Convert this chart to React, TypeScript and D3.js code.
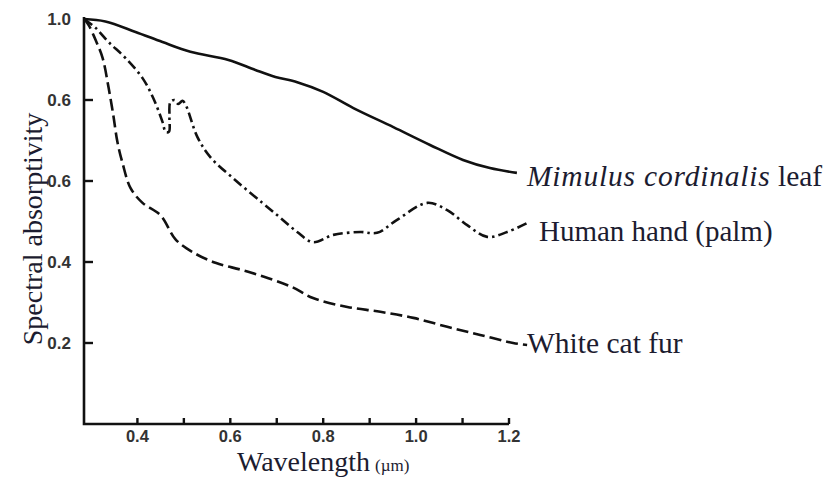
import React from "react";
import * as d3 from "d3";

// Wavelength (µm) vs spectral absorptivity
const leafData: [number, number][] = [
  [0.285, 1.0], [0.331, 0.994], [0.396, 0.968], [0.454, 0.943], [0.514, 0.919],
  [0.596, 0.899], [0.654, 0.874], [0.697, 0.857], [0.744, 0.844], [0.8, 0.82],
  [0.865, 0.78], [0.951, 0.733], [1.03, 0.689], [1.101, 0.652], [1.159, 0.632], [1.217, 0.62],
];

const handData: [number, number][] = [
  [0.285, 1.0], [0.31, 0.978], [0.338, 0.943], [0.374, 0.904], [0.411, 0.854],
  [0.434, 0.805], [0.454, 0.746], [0.461, 0.721], [0.468, 0.722], [0.469, 0.756],
  [0.471, 0.795], [0.48, 0.8], [0.488, 0.79], [0.497, 0.798], [0.505, 0.785],
  [0.529, 0.709], [0.557, 0.659], [0.611, 0.602], [0.669, 0.546], [0.708, 0.509],
  [0.744, 0.474], [0.778, 0.449], [0.822, 0.467], [0.88, 0.474], [0.916, 0.472],
  [0.959, 0.504], [1.024, 0.546], [1.067, 0.528], [1.11, 0.491], [1.153, 0.462],
  [1.196, 0.474], [1.239, 0.496],
];

const catData: [number, number][] = [
  [0.285, 1.0], [0.295, 0.985], [0.31, 0.948], [0.325, 0.904], [0.338, 0.83],
  [0.348, 0.763], [0.357, 0.696], [0.368, 0.644], [0.385, 0.583], [0.411, 0.546],
  [0.45, 0.515], [0.482, 0.456], [0.518, 0.425], [0.568, 0.398], [0.626, 0.38],
  [0.682, 0.36], [0.733, 0.338], [0.778, 0.311], [0.852, 0.289], [0.923, 0.277],
  [0.994, 0.262], [1.067, 0.24], [1.138, 0.22], [1.209, 0.2], [1.239, 0.195],
];

const xTickValues = [0.4, 0.5, 0.6, 0.7, 0.8, 0.9, 1.0, 1.1, 1.2];
const xTickLabels = ["0.4", "", "0.6", "", "0.8", "", "1.0", "", "1.2"];
const yTickValues = [0.2, 0.4, 0.6, 0.8, 1.0];
const yTickLabels = ["0.2", "0.4", "0.6", "0.6", "1.0"];

export default function App() {
  const x = d3.scaleLinear().domain([0.285, 1.2]).range([84, 509]);
  const y = d3.scaleLinear().domain([0, 1]).range([424, 19]);
  const line = d3
    .line<[number, number]>()
    .x((d) => x(d[0]))
    .y((d) => y(d[1]))
    .curve(d3.curveCatmullRom.alpha(0.5));

  const tickFont = "'Liberation Sans', Arial, sans-serif";
  const serif = "'Liberation Serif', 'Times New Roman', serif";
  const ink = "#1c1c30";

  return (
    <svg
      width={824}
      height={477}
      style={{ position: "absolute", left: 0, top: 0, background: "#fff" }}
    >
      <rect width={824} height={477} fill="#fff" />
      {/* axes */}
      <path
        d={`M${x(0.285)},${y(1.0) - 2} L${x(0.285)},${y(0)} L${x(1.2)},${y(0)}`}
        fill="none"
        stroke="#111"
        strokeWidth={2.6}
      />
      {xTickValues.map((v, i) => (
        <g key={"xt" + i}>
          <line x1={x(v)} x2={x(v)} y1={y(0)} y2={y(0) - 6} stroke="#111" strokeWidth={2.4} />
          {xTickLabels[i] && (
            <text
              x={x(v)}
              y={442}
              textAnchor="middle"
              fontFamily={tickFont}
              fontWeight="bold"
              fontSize={16.5}
              fill="#333"
            >
              {xTickLabels[i]}
            </text>
          )}
        </g>
      ))}
      {yTickValues.map((v, i) => (
        <g key={"yt" + i}>
          {v < 1 && (
            <line x1={x(0.285)} x2={x(0.285) + 9} y1={y(v)} y2={y(v)} stroke="#111" strokeWidth={2.4} />
          )}
          <text
            x={71}
            y={y(v) + 6}
            textAnchor="end"
            fontFamily={tickFont}
            fontWeight="bold"
            fontSize={17}
            fill="#333"
          >
            {yTickLabels[i]}
          </text>
        </g>
      ))}

      {/* curves */}
      <path d={line(leafData) || ""} fill="none" stroke="#111" strokeWidth={2.6} />
      <path
        d={line(handData) || ""}
        fill="none"
        stroke="#111"
        strokeWidth={2.6}
        strokeDasharray="10,4,2.5,4"
      />
      <path
        d={line(catData) || ""}
        fill="none"
        stroke="#111"
        strokeWidth={2.6}
        strokeDasharray="12,5"
      />

      {/* series labels */}
      <text x={527} y={186} fontFamily={serif} fontSize={29.5} fill={ink}>
        <tspan fontStyle="italic" letterSpacing={0.8}>Mimulus cordinalis</tspan> leaf
      </text>
      <text x={539} y={241} fontFamily={serif} fontSize={29} fill={ink}>
        Human hand (palm)
      </text>
      <text x={527} y={353} fontFamily={serif} fontSize={29.5} fill={ink}>
        White cat fur
      </text>

      {/* axis titles */}
      <text
        transform="translate(42,229) rotate(-90)"
        textAnchor="middle"
        fontFamily={serif}
        fontSize={28}
        fill={ink}
      >
        Spectral absorptivity
      </text>
      <text x={237} y={471} fontFamily={serif} fontSize={28} fill={ink}>
        Wavelength
        <tspan fontSize={17} dx={5}>(µm)</tspan>
      </text>
    </svg>
  );
}
